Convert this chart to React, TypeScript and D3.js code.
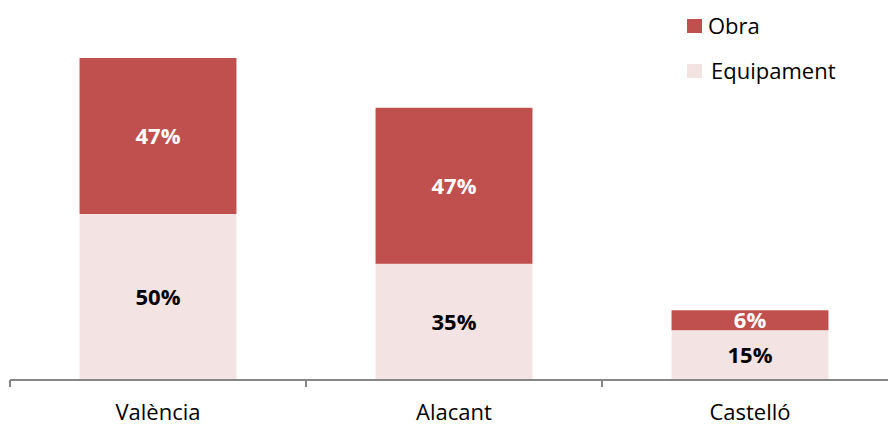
import * as React from "react"
import * as d3 from "d3"

const cities = ["València", "Alacant", "Castelló"]
const equipament = [50, 35, 15]
const obra = [47, 47, 6]
const seriesNames = ["Obra", "Equipament"]

const colors: Record<string, string> = { Obra: "#C0504D", Equipament: "#F4E3E3" }

const App = () => {
    const [w, h] = [888, 430]
    const axisY = 380
    const font = "'Open Sans', sans-serif"

    const xScale = d3
        .scaleBand()
        .domain(cities)
        .range([10, 10 + 296 * cities.length])
        .paddingInner(0.47)
        .paddingOuter(0.235)

    const yScale = d3.scaleLinear().domain([0, 100]).range([axisY, axisY - 332])

    const rows = cities.map((c, i) => ({ city: c, Equipament: equipament[i], Obra: obra[i] }))
    const stack = d3.stack<any>().keys(["Equipament", "Obra"])(rows)

    const bars = stack.map(layer => (
        <g key={layer.key}>
            {layer.map((d, i) => {
                const x = xScale(cities[i]) ?? 0
                const y0 = yScale(d[0])
                const y1 = yScale(d[1])
                const val = d[1] - d[0]
                return (
                    <g key={i}>
                        <rect x={x} y={y1} width={xScale.bandwidth()} height={y0 - y1} fill={colors[layer.key]} />
                        <text
                            x={x + xScale.bandwidth() / 2}
                            y={(y0 + y1) / 2}
                            dy="0.36em"
                            textAnchor="middle"
                            fontSize={22}
                            fontWeight="bold"
                            fill={layer.key === "Obra" ? "#ffffff" : "#000000"}
                        >
                            {val}%
                        </text>
                    </g>
                )
            })}
        </g>
    ))

    const ticks = d3.range(cities.length + 1).map(i => {
        const x = 10 + i * xScale.step()
        return <line key={i} x1={x} x2={x} y1={axisY} y2={axisY + 7} stroke="#868686" strokeWidth={2} />
    })

    const labels = cities.map(c => (
        <text key={c} x={(xScale(c) ?? 0) + xScale.bandwidth() / 2} y={420} textAnchor="middle" fontSize={22} fill="#000">
            {c}
        </text>
    ))

    const legend = seriesNames.map((s, i) => (
        <g key={s} transform={`translate(687, ${19 + i * 45})`}>
            <rect x={0} y={0} width={15} height={14} fill={colors[s]} />
            <text x={s === "Obra" ? 21 : 24} y={15} fontSize={22} fill="#000">
                {s}
            </text>
        </g>
    ))

    return (
        <svg width={w} height={h} style={{ position: "absolute", left: 0, top: 0, fontFamily: font }}>
            <rect width={w} height={h} fill="#fff" />
            {bars}
            <line x1={10} x2={w} y1={axisY} y2={axisY} stroke="#868686" strokeWidth={2} />
            {ticks}
            {labels}
            {legend}
        </svg>
    )
}

export default App
